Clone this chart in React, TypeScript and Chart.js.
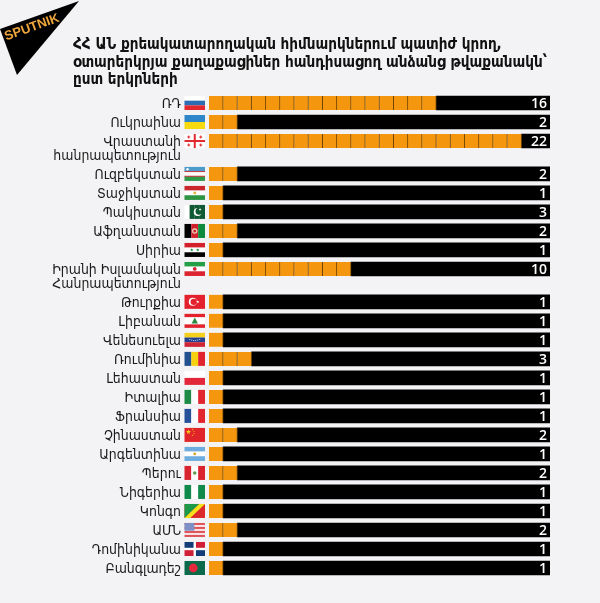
import React, { useRef, useEffect } from 'react';
import { Chart, registerables } from 'chart.js';

Chart.register(...registerables);

const titleLines = [
  'ՀՀ ԱՆ քրեակատարողական հիմնարկներում պատիժ կրող,',
  'օտարերկրյա քաղաքացիներ հանդիսացող անձանց թվաքանակն՝',
  'ըստ երկրների',
];

const countries = [
  ['ՌԴ'], ['Ուկրաինա'], ['Վրաստանի', 'հանրապետություն'], ['Ուզբեկստան'], ['Տաջիկստան'],
  ['Պակիստան'], ['Աֆղանստան'], ['Սիրիա'], ['Իրանի Իսլամական', 'Հանրապետություն'], ['Թուրքիա'],
  ['Լիբանան'], ['Վենեսուելա'], ['Ռումինիա'], ['Լեհաստան'], ['Իտալիա'], ['Ֆրանսիա'],
  ['Չինաստան'], ['Արգենտինա'], ['Պերու'], ['Նիգերիա'], ['Կոնգո'], ['ԱՄՆ'], ['Դոմինիկանա'], ['Բանգլադեշ'],
];
const flagCodes = ['ru', 'ua', 'ge', 'uz', 'tj', 'pk', 'af', 'sy', 'ir', 'tr', 'lb', 've', 'ro', 'pl', 'it', 'fr', 'cn', 'ar', 'pe', 'ng', 'cg', 'us', 'do', 'bd'];
// orange cells drawn per country
const cells = [16, 2, 22, 2, 1, 1, 2, 1, 10, 1, 1, 1, 3, 1, 1, 1, 2, 1, 2, 1, 1, 2, 1, 1];
// the printed number, Pakistan prints 3 but has one cell in the source
const printed = [16, 2, 22, 2, 1, 3, 2, 1, 10, 1, 1, 1, 3, 1, 1, 1, 2, 1, 2, 1, 1, 2, 1, 1];
const trackMax = 24;

const LINE_STEP = 0.73; // second label line, in row units
const rowAt: number[] = [];
countries.forEach((c, i) => {
  rowAt.push(i === 0 ? 0 : rowAt[i - 1] + 1 + (countries[i - 1].length - 1) * LINE_STEP);
});
const lastRow = rowAt[rowAt.length - 1];

const tickText = new Map<number, string>();
countries.forEach((c, i) => c.forEach((line, j) => tickText.set(rowAt[i] + j * LINE_STEP, line)));

const ORANGE = '#f4970f';
const DIVIDER = '#704400';
const cellDatasets = Array.from({ length: Math.max(...cells) }, (_, n) => ({
  data: rowAt.flatMap((y, i) => (cells[i] > n ? [{ x: 1, y }] : [])),
  backgroundColor: ORANGE,
  borderColor: DIVIDER,
  borderWidth: { top: 0, left: 0, bottom: 0, right: 1 },
  borderSkipped: false,
  stack: 'row',
  barThickness: 14,
}));
const restDataset = {
  data: rowAt.map((y, i) => ({ x: trackMax - cells[i], y })),
  backgroundColor: '#000',
  stack: 'row',
  barThickness: 14,
};

type Ctx = CanvasRenderingContext2D;

function star(ctx: Ctx, cx: number, cy: number, r: number, color: string) {
  ctx.fillStyle = color;
  ctx.beginPath();
  for (let i = 0; i < 10; i++) {
    const a = -Math.PI / 2 + (i * Math.PI) / 5;
    const d = i % 2 ? r * 0.4 : r;
    ctx.lineTo(cx + Math.cos(a) * d, cy + Math.sin(a) * d);
  }
  ctx.closePath();
  ctx.fill();
}

function disc(ctx: Ctx, cx: number, cy: number, r: number, color: string) {
  ctx.fillStyle = color;
  ctx.beginPath();
  ctx.arc(cx, cy, r, 0, Math.PI * 2);
  ctx.fill();
}

function hbands(ctx: Ctx, x: number, y: number, w: number, h: number, colors: string[]) {
  colors.forEach((c, i) => {
    ctx.fillStyle = c;
    ctx.fillRect(x, y + (i * h) / colors.length, w, h / colors.length);
  });
}

function vbands(ctx: Ctx, x: number, y: number, w: number, h: number, colors: string[]) {
  colors.forEach((c, i) => {
    ctx.fillStyle = c;
    ctx.fillRect(x + (i * w) / colors.length, y, w / colors.length, h);
  });
}

function drawFlag(ctx: Ctx, code: string, x: number, y: number, w: number, h: number) {
  const cx = x + w / 2;
  const cy = y + h / 2;
  const W = '#fff';
  switch (code) {
    case 'ru': hbands(ctx, x, y, w, h, [W, '#2a6db5', '#e2272e']); break;
    case 'ua': hbands(ctx, x, y, w, h, ['#2f87c9', '#f6d90f']); break;
    case 'ge':
      hbands(ctx, x, y, w, h, [W]);
      ctx.fillStyle = '#e2272e';
      ctx.fillRect(cx - 1, y, 2, h);
      ctx.fillRect(x, cy - 1, w, 2);
      [[-6, -4], [6, -4], [-6, 4], [6, 4]].forEach(([dx, dy]) => {
        ctx.fillRect(cx + dx - 0.5, cy + dy - 1.5, 1, 3);
        ctx.fillRect(cx + dx - 1.5, cy + dy - 0.5, 3, 1);
      });
      break;
    case 'uz':
      hbands(ctx, x, y, w, h, ['#4c9ccb', W, '#2f9a49']);
      ctx.fillStyle = '#c8323a';
      ctx.fillRect(x, y + h / 3 - 0.5, w, 1);
      ctx.fillRect(x, y + (2 * h) / 3 - 0.5, w, 1);
      disc(ctx, x + 3, y + 2.3, 1.2, W);
      break;
    case 'tj':
      hbands(ctx, x, y, w, h, ['#c9252c', W, '#2d9444']);
      disc(ctx, cx, cy, 1.4, '#e0b23a');
      break;
    case 'pk':
      vbands(ctx, x, y, w, h, [W, '#0f5a32', '#0f5a32', '#0f5a32']);
      disc(ctx, cx + 3, cy, 4, W);
      disc(ctx, cx + 4.3, cy - 0.8, 3.5, '#0f5a32');
      star(ctx, cx + 5.3, cy - 2.5, 1.6, W);
      break;
    case 'af':
      vbands(ctx, x, y, w, h, ['#000', '#d0202b', '#0d8a3c']);
      disc(ctx, cx, cy, 2.7, '#ecd9c0');
      disc(ctx, cx, cy, 1.5, '#d0202b');
      break;
    case 'sy':
      hbands(ctx, x, y, w, h, ['#d3202b', W, '#000']);
      star(ctx, cx - 3, cy, 1.8, '#1d8f45');
      star(ctx, cx + 3, cy, 1.8, '#1d8f45');
      break;
    case 'ir':
      hbands(ctx, x, y, w, h, ['#239f46', W, '#dc2431']);
      disc(ctx, cx, cy, 1.9, '#dc2431');
      break;
    case 'tr':
      hbands(ctx, x, y, w, h, ['#e3202d']);
      disc(ctx, cx - 2, cy, 4, W);
      disc(ctx, cx - 1, cy, 3.2, '#e3202d');
      star(ctx, cx + 3, cy, 1.7, W);
      break;
    case 'lb':
      hbands(ctx, x, y, w, h, ['#e2232e', W, W, '#e2232e']);
      ctx.fillStyle = '#2a8a3f';
      ctx.beginPath();
      ctx.moveTo(cx, cy - 3.4);
      ctx.lineTo(cx + 3.2, cy + 2.6);
      ctx.lineTo(cx - 3.2, cy + 2.6);
      ctx.closePath();
      ctx.fill();
      break;
    case 've':
      hbands(ctx, x, y, w, h, ['#f5d01a', '#23408f', '#cf2336']);
      [-5, -3, -1, 1, 3, 5].forEach((dx) => disc(ctx, cx + dx, cy + Math.abs(dx) * -0.25 + 0.8, 0.5, W));
      break;
    case 'ro': vbands(ctx, x, y, w, h, ['#23508f', '#f6d10f', '#e0232e']); break;
    case 'pl': hbands(ctx, x, y, w, h, [W, '#e3263a']); break;
    case 'it': vbands(ctx, x, y, w, h, ['#1d8b45', W, '#e2262f']); break;
    case 'fr': vbands(ctx, x, y, w, h, ['#27509b', W, '#e2262f']); break;
    case 'cn':
      hbands(ctx, x, y, w, h, ['#e1242a']);
      star(ctx, x + 4, y + 4, 2.6, '#f5d01a');
      [[8, 1.7], [9.5, 3.5], [9.5, 5.8], [8, 7.4]].forEach(([dx, dy]) => star(ctx, x + dx, y + dy, 0.9, '#f5d01a'));
      break;
    case 'ar':
      hbands(ctx, x, y, w, h, ['#6cacdf', W, '#6cacdf']);
      disc(ctx, cx, cy, 1.4, '#d8a72a');
      break;
    case 'pe':
      vbands(ctx, x, y, w, h, ['#d9232e', W, '#d9232e']);
      disc(ctx, cx, cy, 1.7, '#5d9a4a');
      break;
    case 'ng': vbands(ctx, x, y, w, h, ['#0f8a4a', W, '#0f8a4a']); break;
    case 'cg':
      hbands(ctx, x, y, w, h, ['#dc2a2a']);
      ctx.fillStyle = '#1c9a48';
      ctx.beginPath();
      ctx.moveTo(x, y);
      ctx.lineTo(x + w * 0.72, y);
      ctx.lineTo(x, y + h);
      ctx.closePath();
      ctx.fill();
      ctx.fillStyle = '#f6e21c';
      ctx.beginPath();
      ctx.moveTo(x + w * 0.72, y);
      ctx.lineTo(x + w, y);
      ctx.lineTo(x + w * 0.28, y + h);
      ctx.lineTo(x, y + h);
      ctx.closePath();
      ctx.fill();
      break;
    case 'us':
      hbands(ctx, x, y, w, h, ['#e0525a', '#f6e3e3', '#e0525a', '#f6e3e3', '#e0525a', '#f6e3e3', '#e0525a']);
      ctx.fillStyle = '#7d8fc4';
      ctx.fillRect(x, y, w * 0.48, h * 0.55);
      break;
    case 'do':
      hbands(ctx, x, y, w, h, [W]);
      ctx.fillStyle = '#123d79';
      ctx.fillRect(x, y, w / 2 - 1.2, h / 2 - 1.2);
      ctx.fillRect(cx + 1.2, cy + 1.2, w / 2 - 1.2, h / 2 - 1.2);
      ctx.fillStyle = '#d01f36';
      ctx.fillRect(cx + 1.2, y, w / 2 - 1.2, h / 2 - 1.2);
      ctx.fillRect(x, cy + 1.2, w / 2 - 1.2, h / 2 - 1.2);
      break;
    case 'bd':
      hbands(ctx, x, y, w, h, ['#0a6a4a']);
      disc(ctx, cx - 1.5, cy, 4.4, '#e5283c');
      break;
  }
}

const decorPlugin = {
  id: 'decor',
  afterDraw(chart: any) {
    const { ctx, scales } = chart;
    ctx.save();

    // logo
    ctx.fillStyle = '#000';
    ctx.beginPath();
    ctx.moveTo(79, 1);
    ctx.lineTo(0, 29);
    ctx.lineTo(17, 75);
    ctx.closePath();
    ctx.fill();
    ctx.save();
    ctx.translate(32, 27.5);
    ctx.rotate(-0.345);
    ctx.fillStyle = '#eea53c';
    ctx.font = 'bold 13px "Liberation Sans"';
    ctx.textAlign = 'center';
    ctx.textBaseline = 'middle';
    ctx.fillText('SPUTNIK', 0, 0);
    ctx.restore();

    // title
    ctx.fillStyle = '#111';
    ctx.font = 'bold 15.1px "DejaVu Sans Condensed", "DejaVu Sans"';
    ctx.textAlign = 'left';
    ctx.textBaseline = 'middle';
    titleLines.forEach((line, i) => ctx.fillText(line, 73, 45 + i * 17.6));

    // flags
    rowAt.forEach((r, i) => {
      const y = scales.y.getPixelForValue(r);
      drawFlag(ctx, flagCodes[i], 184.5, y - 7, 20.5, 14);
    });

    // printed numbers
    ctx.fillStyle = '#fff';
    ctx.font = '600 14px "Open Sans"';
    ctx.textAlign = 'right';
    rowAt.forEach((r, i) => {
      ctx.fillText(String(printed[i]), scales.x.getPixelForValue(trackMax) - 3, scales.y.getPixelForValue(r) + 1);
    });
    ctx.restore();
  },
};

const App: React.FC = () => {
  const chartRef = useRef<HTMLCanvasElement>(null);

  useEffect(() => {
    document.body.style.margin = '0';
    document.body.style.background = '#f3f2f4';
    if (!chartRef.current) return;
    const chart = new Chart(chartRef.current, {
      type: 'bar',
      data: { datasets: [...cellDatasets, restDataset] as any },
      options: {
        indexAxis: 'y',
        responsive: false,
        animation: false,
        layout: { padding: { top: 93.5, bottom: 25.5, left: 0, right: 50 } },
        plugins: { legend: { display: false }, tooltip: { enabled: false } },
        scales: {
          x: { type: 'linear', min: 0, max: trackMax, stacked: true, display: false },
          y: {
            type: 'linear',
            reverse: true,
            stacked: true,
            offset: false,
            min: -0.5,
            max: lastRow + 0.5,
            border: { display: false },
            grid: { display: false, drawTicks: false },
            afterFit: (scale: any) => {
              scale.width = 209;
              scale.paddingTop = 0;
              scale.paddingBottom = 0;
            },
            afterBuildTicks: (scale: any) => {
              scale.ticks = [...tickText.keys()].map((value) => ({ value }));
            },
            ticks: {
              autoSkip: false,
              padding: 28,
              labelOffset: 1.5,
              color: '#1a1a1a',
              font: { family: '"DejaVu Sans Condensed", "DejaVu Sans"', size: 13.9 },
              callback: (value: any) => tickText.get(value) ?? '',
            },
          },
        },
      },
      plugins: [decorPlugin],
    });
    return () => chart.destroy();
  }, []);

  return <canvas ref={chartRef} width={600} height={603} style={{ display: 'block' }} />;
};

export default App;
